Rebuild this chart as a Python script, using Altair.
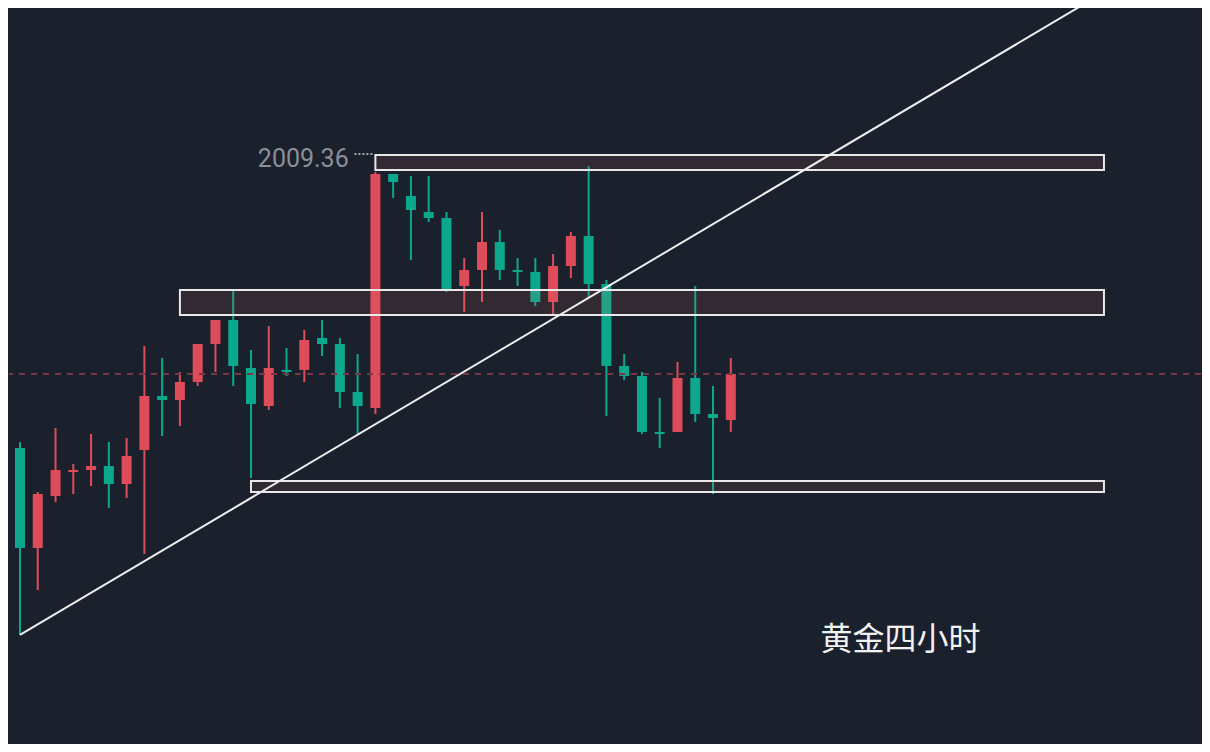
import altair as alt
import pandas as pd

# ---- candle data (4h gold) ----
idx = list(range(42))
opens = [1975.86, 1974.11, 1961.61, 1968.11, 1971.11, 1971.36, 1971.86, 1969.61, 1973.86, 1980.61,
         1980.11, 1982.36, 1987.11, 1990.11, 1984.11, 1979.36, 1983.86, 1983.86, 1987.86, 1987.11,
         1981.11, 1979.11, 2008.36, 2005.61, 2003.61, 2002.86, 1994.36, 1996.36, 1999.86, 1996.36,
         1996.11, 1992.36, 1996.86, 2000.61, 1994.61, 1984.36, 1983.11, 1976.11, 1976.11, 1982.86,
         1978.36, 1977.61]
highs = [1978.36, 1974.86, 1968.61, 1976.61, 1972.11, 1975.86, 1974.86, 1975.36, 1986.86, 1985.36,
         1983.61, 1987.11, 1990.11, 1993.86, 1986.36, 1989.36, 1986.61, 1988.86, 1990.11, 1987.86,
         1985.86, 2008.61, 2008.36, 2008.11, 2008.11, 2003.61, 1997.86, 2003.61, 2001.36, 1997.86,
         1997.86, 1998.36, 2001.11, 2009.36, 1995.11, 1985.86, 1983.61, 1980.36, 1984.86, 1994.36,
         1981.86, 1985.36]
lows = [1973.36, 1950.74, 1956.36, 1967.36, 1968.36, 1969.36, 1966.61, 1967.86, 1960.86, 1975.61,
        1976.86, 1981.86, 1983.61, 1981.86, 1970.36, 1978.86, 1983.11, 1982.36, 1985.61, 1979.11,
        1975.86, 1978.36, 2005.36, 1997.61, 2002.36, 1993.61, 1991.11, 1992.36, 1995.11, 1994.36,
        1991.86, 1990.86, 1995.36, 1992.86, 1978.11, 1982.61, 1975.86, 1974.11, 1976.11, 1977.36,
        1968.36, 1976.11]
closes = [1974.11, 1961.61, 1968.36, 1971.36, 1971.36, 1971.86, 1969.61, 1973.11, 1980.61, 1980.11,
          1982.36, 1987.11, 1990.11, 1984.36, 1979.61, 1984.11, 1983.61, 1987.61, 1987.11, 1981.11,
          1979.36, 2008.36, 2007.36, 2003.86, 2002.86, 1993.86, 1996.36, 1999.86, 1996.36, 1996.11,
          1992.36, 1996.86, 2000.61, 1994.61, 1984.36, 1983.11, 1976.11, 1975.86, 1982.86, 1978.36,
          1977.86, 1983.36]

# ---- zones (rectangles) ----
box_x1 = [21, 10, 14]
box_x2 = [62, 62, 62]
box_top = [2010.74, 1993.86, 1969.99]
box_bottom = [2008.86, 1990.74, 1968.61]

# ---- trend line ----
trend_idx = [1, 62]
trend_price = [1950.74, 2031.08]

# ---- current price line ----
last_price = [1983.36]

# ---- labels ----
high_label = ["2009.36"]
high_label_idx = [19.5]
high_label_price = [2010.24]
leader_idx = [19.82, 20.94]
leader_price = [2010.86]
title_text = ["黄金四小时"]
title_idx = [50.55]
title_price = [1950.11]

UP = "#de4c5a"
DOWN = "#0ba88d"
BG = "#1b202d"

xs = alt.Scale(domain=[0.382, 67.46], nice=False, zero=False, padding=0)
ys = alt.Scale(domain=[1937.11, 2029.11], nice=False, zero=False, padding=0)

df = pd.DataFrame({"i": idx, "open": opens, "high": highs, "low": lows, "close": closes})
df["dir"] = ["up" if c >= o else "down" for o, c in zip(opens, closes)]
color = alt.Color("dir:N", scale=alt.Scale(domain=["up", "down"], range=[UP, DOWN]), legend=None)

base = alt.Chart(df)
wicks = base.mark_rule(strokeWidth=2, clip=True).encode(
    x=alt.X("i:Q", scale=xs, axis=None),
    y=alt.Y("low:Q", scale=ys, axis=None),
    y2="high:Q",
    color=color,
)
bodies = base.mark_bar(size=10, clip=True).encode(
    x=alt.X("i:Q", scale=xs, axis=None),
    y=alt.Y("open:Q", scale=ys, axis=None),
    y2="close:Q",
    color=color,
)

boxes_df = pd.DataFrame({"x1": box_x1, "x2": box_x2, "top": box_top, "bottom": box_bottom})
boxes = alt.Chart(boxes_df).mark_rect(
    fill="#db7357", fillOpacity=0.12, stroke="#e8e8e8", strokeWidth=2, clip=True
).encode(
    x=alt.X("x1:Q", scale=xs, axis=None),
    x2="x2:Q",
    y=alt.Y("top:Q", scale=ys, axis=None),
    y2="bottom:Q",
)

trend_df = pd.DataFrame({"i": trend_idx, "p": trend_price})
trend = alt.Chart(trend_df).mark_line(color="#eeeeee", strokeWidth=2, clip=True).encode(
    x=alt.X("i:Q", scale=xs, axis=None),
    y=alt.Y("p:Q", scale=ys, axis=None),
)

price_line = alt.Chart(pd.DataFrame({"p": last_price})).mark_rule(
    color="#7a3646", strokeWidth=2, strokeDash=[6, 6]
).encode(y=alt.Y("p:Q", scale=ys, axis=None))

leader = alt.Chart(pd.DataFrame({"a": [leader_idx[0]], "b": [leader_idx[1]], "p": leader_price})).mark_rule(
    color="#cfd2d8", strokeWidth=1.5, strokeDash=[2, 2]
).encode(
    x=alt.X("a:Q", scale=xs, axis=None),
    x2="b:Q",
    y=alt.Y("p:Q", scale=ys, axis=None),
)

hl = alt.Chart(pd.DataFrame({"t": high_label, "i": high_label_idx, "p": high_label_price})).mark_text(
    align="right", baseline="middle", fontSize=25, font="Roboto", color="#8b8f9a"
).encode(
    x=alt.X("i:Q", scale=xs, axis=None),
    y=alt.Y("p:Q", scale=ys, axis=None),
    text="t:N",
)

title = alt.Chart(pd.DataFrame({"t": title_text, "i": title_idx, "p": title_price})).mark_text(
    align="center", baseline="middle", fontSize=32, font="Noto Sans CJK SC", color="#f2f2f2"
).encode(
    x=alt.X("i:Q", scale=xs, axis=None),
    y=alt.Y("p:Q", scale=ys, axis=None),
    text="t:N",
)

chart = alt.layer(wicks, bodies, price_line, boxes, trend, leader, hl, title).properties(
    width=1194,
    height=736,
    autosize=alt.AutoSizeParams(type="fit", contains="padding"),
    padding=0,
    background=BG,
).configure_view(stroke=None)

chart.save("out.html", embed_options={"renderer": "svg", "actions": False})
